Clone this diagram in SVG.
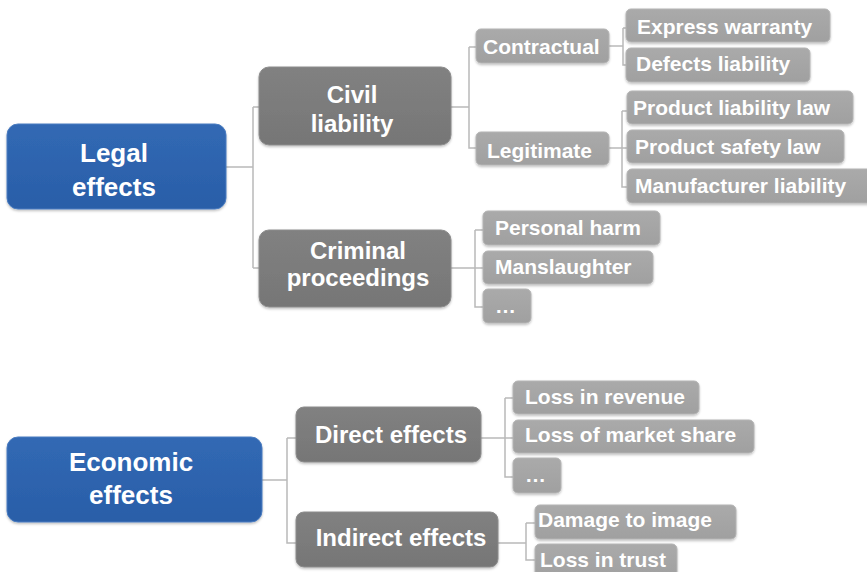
<svg xmlns="http://www.w3.org/2000/svg" width="867" height="572" viewBox="0 0 867 572">
<defs>
<filter id="sh" x="-10%" y="-20%" width="120%" height="150%">
<feDropShadow dx="0" dy="1.5" stdDeviation="1.2" flood-color="#000" flood-opacity="0.25"/>
</filter>
<linearGradient id="gBlue" x1="0" y1="0" x2="0" y2="1">
<stop offset="0" stop-color="#3169b4"/><stop offset="1" stop-color="#2a5ea8"/>
</linearGradient>
<linearGradient id="gDark" x1="0" y1="0" x2="0" y2="1">
<stop offset="0" stop-color="#818181"/><stop offset="1" stop-color="#767676"/>
</linearGradient>
<linearGradient id="gLight" x1="0" y1="0" x2="0" y2="1">
<stop offset="0" stop-color="#aaaaaa"/><stop offset="1" stop-color="#a0a0a0"/>
</linearGradient>
</defs>
<style>
text{font-family:"Liberation Sans",Arial,sans-serif;font-weight:bold;fill:#fff}
.l1 rect{fill:url(#gBlue);stroke:#4a7cc0;stroke-width:1;filter:url(#sh)}
.l1 text{font-size:26px;text-anchor:middle}
.l2 rect{fill:url(#gDark);stroke:#8c8c8c;stroke-width:1;filter:url(#sh)}
.l2 text{font-size:24px;text-anchor:middle}
.l3 rect{fill:url(#gLight);stroke:#b4b4b4;stroke-width:1;filter:url(#sh)}
.l3 text{font-size:21px}
#connectors path{fill:none;stroke:#b9b9b9;stroke-width:1.5}
</style>
<g id="connectors">
<path d="M226,167 H253 M253,107 V268 M253,107 H259 M253,268 H259"/>
<path d="M451,107 H469 M469,47 V148 H476 M469,47 H476"/>
<path d="M609,46 H623 M623,28 V65 H626 M623,28 H626"/>
<path d="M609,148 H627 M622,111 V187 H627 M622,111 H627"/>
<path d="M451,268 H483 M475,230 V307 H483 M475,230 H483"/>
<path d="M262,480 H287 M287,438 V543 H296 M287,438 H296"/>
<path d="M481,438 H513 M505,398 V477 H513 M505,398 H513"/>
<path d="M498,543 H526 M526,523 V560 H535 M526,523 H535"/>
</g>
<g id="legal" class="l1"><rect x="7" y="124" width="219" height="85" rx="11"/><text x="114" y="162">Legal</text><text x="114" y="196">effects</text></g>
<g id="economic" class="l1"><rect x="7" y="437" width="255" height="85" rx="11"/><text x="131" y="471">Economic</text><text x="131" y="504">effects</text></g>
<g id="civil" class="l2"><rect x="259" y="67" width="192" height="78" rx="10"/><text x="352" y="103">Civil</text><text x="352" y="132">liability</text></g>
<g id="criminal" class="l2"><rect x="259" y="230" width="192" height="77" rx="10"/><text x="358" y="259">Criminal</text><text x="358" y="286">proceedings</text></g>
<g id="direct" class="l2"><rect x="296" y="407" width="185" height="55" rx="8"/><text x="391" y="443">Direct effects</text></g>
<g id="indirect" class="l2"><rect x="296" y="512" width="202" height="55" rx="8"/><text x="401" y="546">Indirect effects</text></g>
<g id="contractual" class="l3"><rect x="476" y="29" width="133" height="34" rx="5"/><text x="483" y="54">Contractual</text></g>
<g id="legitimate" class="l3"><rect x="476" y="132" width="133" height="33" rx="5"/><text x="487" y="158">Legitimate</text></g>
<g id="express" class="l3"><rect x="626" y="9" width="204" height="33" rx="5"/><text x="637" y="34">Express warranty</text></g>
<g id="defects" class="l3"><rect x="626" y="48" width="184" height="34" rx="5"/><text x="636" y="71">Defects liability</text></g>
<g id="productliability" class="l3"><rect x="627" y="91" width="226" height="33" rx="5"/><text x="633" y="115">Product liability law</text></g>
<g id="productsafety" class="l3"><rect x="627" y="130" width="217" height="33" rx="5"/><text x="635" y="154">Product safety law</text></g>
<g id="manufacturer" class="l3"><rect x="627" y="169" width="250" height="34" rx="5"/><text x="635" y="193">Manufacturer liability</text></g>
<g id="personal" class="l3"><rect x="483" y="211" width="177" height="34" rx="5"/><text x="495" y="235">Personal harm</text></g>
<g id="manslaughter" class="l3"><rect x="483" y="251" width="170" height="33" rx="5"/><text x="495" y="274">Manslaughter</text></g>
<g id="more1" class="l3"><rect x="483" y="289" width="48" height="34" rx="5"/><text x="495" y="313">…</text></g>
<g id="revenue" class="l3"><rect x="513" y="381" width="186" height="33" rx="5"/><text x="525" y="404">Loss in revenue</text></g>
<g id="marketshare" class="l3"><rect x="513" y="420" width="241" height="33" rx="5"/><text x="525" y="442">Loss of market share</text></g>
<g id="more2" class="l3"><rect x="513" y="458" width="48" height="35" rx="5"/><text x="525" y="482">…</text></g>
<g id="image" class="l3"><rect x="535" y="505" width="201" height="34" rx="5"/><text x="538" y="527">Damage to image</text></g>
<g id="trust" class="l3"><rect x="535" y="544" width="142" height="35" rx="5"/><text x="540" y="567">Loss in trust</text></g>
</svg>
